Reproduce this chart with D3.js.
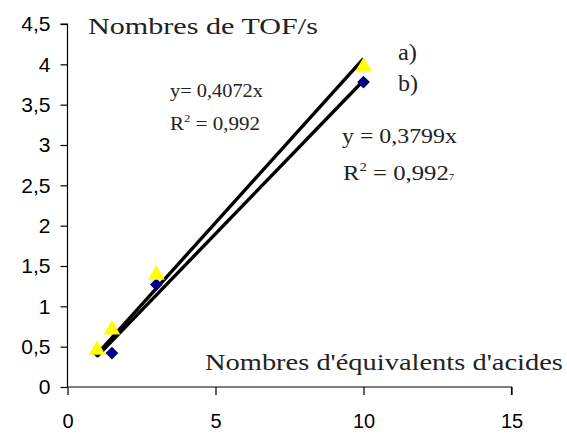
<!DOCTYPE html>
<html><head><meta charset="utf-8">
<script src="https://cdn.jsdelivr.net/npm/d3@7"></script>
<style>body{margin:0;background:#fff}svg{display:block}</style>
</head><body>
<script>
const xTicks = [0, 5, 10, 15];
const yTicks = [0, 0.5, 1, 1.5, 2, 2.5, 3, 3.5, 4, 4.5];
const seriesA_x = [1, 1.5, 3, 10];
const seriesA_y = [0.46, 0.71, 1.39, 3.97];
const seriesB_x = [1, 1.5, 3, 10];
const seriesB_y = [0.44, 0.42, 1.27, 3.78];
const slopeA = 0.4072, slopeB = 0.3799;
const trendRange = [1, 10];

const W = 567, H = 434;
const svg = d3.select("body").append("svg").attr("width", W).attr("height", H);
const x = d3.scaleLinear().domain([0, 15]).range([67.5, 511.5]);
const y = d3.scaleLinear().domain([0, 4.5]).range([387, 24]);
const fmt = d => String(d).replace(".", ",");

const yAxis = svg.append("g").attr("transform", "translate(67.5,0)")
  .call(d3.axisLeft(y).tickValues(yTicks).tickFormat(fmt).tickSize(7).tickPadding(10));
const xAxis = svg.append("g").attr("transform", "translate(0,387)")
  .call(d3.axisBottom(x).tickValues(xTicks).tickFormat(fmt).tickSize(8).tickPadding(19));
[yAxis, xAxis].forEach(g => {
  g.select(".domain").attr("stroke", "#000").attr("stroke-width", 1.2);
  g.selectAll(".tick line").attr("stroke", "#000").attr("stroke-width", 1.2);
  g.selectAll("text").attr("font-family", "Liberation Sans, Arial, sans-serif").attr("font-size", 21).attr("fill", "#000");
});
xAxis.selectAll("text").attr("font-size", 20);
yAxis.selectAll(".domain").attr("d", `M-7,${y(4.5)}H0V${y(0)}`);
xAxis.selectAll(".domain").attr("d", `M${x(0)},0H${x(15)}V8`);

// trendlines
[slopeA, slopeB].forEach(s => {
  svg.append("line")
    .attr("x1", x(trendRange[0])).attr("y1", y(s * trendRange[0]))
    .attr("x2", x(trendRange[1])).attr("y2", y(s * trendRange[1]))
    .attr("stroke", "#000").attr("stroke-width", 3.4);
});

// series B diamonds
svg.selectAll(".b").data(seriesB_x.map((v, i) => [v, seriesB_y[i]])).enter().append("path")
  .attr("d", d3.symbol(d3.symbolSquare, 80)())
  .attr("transform", d => `translate(${x(d[0])},${y(d[1])}) rotate(45)`)
  .attr("fill", "#000080");
// series A triangles
svg.selectAll(".a").data(seriesA_x.map((v, i) => [v, seriesA_y[i]])).enter().append("path")
  .attr("d", d3.symbol(d3.symbolTriangle, 120)())
  .attr("transform", d => `translate(${x(d[0])},${y(d[1])})`)
  .attr("fill", "#ffff00");

const serif = "Liberation Serif, Times New Roman, serif";
function txt(tx, ty, s, size, targetW) {
  const t = svg.append("text").attr("x", 0).attr("y", 0).attr("font-family", serif)
    .attr("font-size", size).attr("fill", "#222").text(s);
  t.fit = () => {
    const w = t.node().getBBox().width;
    const sx = targetW ? targetW / w : 1;
    t.attr("transform", `translate(${tx},${ty}) scale(${sx},1)`);
  };
  return t;
}
const texts = [];
texts.push(txt(88, 34, "Nombres de TOF/s", 24, 230));
texts.push(txt(205, 370, "Nombres d'équivalents d'acides", 24, 358));
texts.push(txt(398, 60, "a)", 24, 19));
texts.push(txt(398, 91, "b)", 24, 20));
texts.push(txt(170, 97, "y= 0,4072x", 18, 93));
const r1 = txt(170, 130, "R", 18, 90);
r1.append("tspan").attr("dy", -8).attr("font-size", 11).text("2");
r1.append("tspan").attr("dy", 8).text(" = 0,992");
texts.push(r1);
texts.push(txt(342, 143, "y = 0,3799x", 20, 115));
const r2 = txt(343, 180, "R", 20, 112);
r2.append("tspan").attr("dy", -9).attr("font-size", 12).text("2");
r2.append("tspan").attr("dy", 9).text(" = 0,992");
r2.append("tspan").attr("font-size", 9).text("7");
texts.push(r2);
texts.forEach(t => t.fit());
</script>
</body></html>
